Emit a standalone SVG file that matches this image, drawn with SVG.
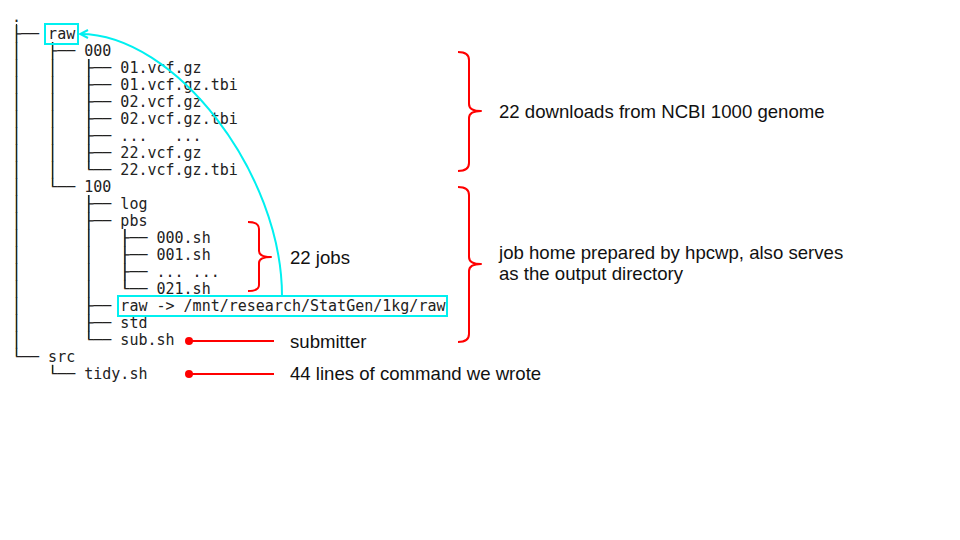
<svg xmlns="http://www.w3.org/2000/svg" width="960" height="540" viewBox="0 0 960 540">
<defs>
<style>
.t{font-family:"DejaVu Sans Mono","Liberation Mono",monospace;font-size:15px;fill:#222}
.tl{stroke:#222;stroke-width:1.2}
.l{font-family:"Liberation Sans",Arial,sans-serif;font-size:18.6px;fill:#111}
.cy{fill:none;stroke:#00f0f0;stroke-width:2}
.rd{fill:none;stroke:#f00;stroke-width:2;stroke-linejoin:round}
</style>
<marker id="ah" viewBox="0 0 10 10" refX="9" refY="5" markerWidth="10" markerHeight="10" markerUnits="userSpaceOnUse" orient="auto">
<path d="M1,1 L9,5 L1,9" fill="none" stroke="#00f0f0" stroke-width="2"/>
</marker>
</defs>
<rect width="960" height="540" fill="#fff"/>
<g id="tree-lines" class="tl">
<line x1="16.5" y1="24" x2="16.5" y2="356"/>
<line x1="52.6" y1="42" x2="52.6" y2="186"/>
<line x1="88.7" y1="59" x2="88.7" y2="169"/>
<line x1="88.7" y1="195" x2="88.7" y2="339"/>
<line x1="124.9" y1="229" x2="124.9" y2="288"/>
<line x1="52.6" y1="365" x2="52.6" y2="373"/>
</g>
<g id="tree" class="t">
<text xml:space="preserve" x="12" y="22">.</text>
<text xml:space="preserve" x="12" y="39">├── raw</text>
<text xml:space="preserve" x="12" y="56">│   ├── 000</text>
<text xml:space="preserve" x="12" y="73">│   │   ├── 01.vcf.gz</text>
<text xml:space="preserve" x="12" y="90">│   │   ├── 01.vcf.gz.tbi</text>
<text xml:space="preserve" x="12" y="107">│   │   ├── 02.vcf.gz</text>
<text xml:space="preserve" x="12" y="124">│   │   ├── 02.vcf.gz.tbi</text>
<text xml:space="preserve" x="12" y="141">│   │   ├── ...   ...</text>
<text xml:space="preserve" x="12" y="158">│   │   ├── 22.vcf.gz</text>
<text xml:space="preserve" x="12" y="175">│   │   └── 22.vcf.gz.tbi</text>
<text xml:space="preserve" x="12" y="192">│   └── 100</text>
<text xml:space="preserve" x="12" y="209">│       ├── log</text>
<text xml:space="preserve" x="12" y="226">│       ├── pbs</text>
<text xml:space="preserve" x="12" y="243">│       │   ├── 000.sh</text>
<text xml:space="preserve" x="12" y="260">│       │   ├── 001.sh</text>
<text xml:space="preserve" x="12" y="277">│       │   ├── ... ...</text>
<text xml:space="preserve" x="12" y="294">│       │   └── 021.sh</text>
<text xml:space="preserve" x="12" y="311">│       ├── raw -&gt; /mnt/research/StatGen/1kg/raw</text>
<text xml:space="preserve" x="12" y="328">│       ├── std</text>
<text xml:space="preserve" x="12" y="345">│       └── sub.sh</text>
<text xml:space="preserve" x="12" y="362">└── src</text>
<text xml:space="preserve" x="12" y="379">    └── tidy.sh</text>
</g>
<g id="highlight-raw"><rect class="cy" x="45" y="24" width="33" height="20"/></g>
<g id="highlight-link"><rect class="cy" x="118" y="296" width="329" height="20"/></g>
<g id="label-downloads"><text class="l" x="499" y="118">22 downloads from NCBI 1000 genome</text></g>
<g id="label-jobhome"><text class="l" x="499" y="259">job home prepared by hpcwp, also serves</text><text class="l" x="499" y="280">as the output directory</text></g>
<g id="label-jobs"><text class="l" x="290" y="264">22 jobs</text></g>
<g id="label-submitter"><text class="l" x="290" y="348">submitter</text></g>
<g id="label-command"><text class="l" x="290" y="380">44 lines of command we wrote</text></g>
<g id="connectors">
<path class="cy" d="M282,296 C282,173 175,34 80,34" marker-end="url(#ah)"/>
<path class="rd" d="M458,52 Q469,52 469,60 L469,104 Q469,111 481,111 Q469,111 469,118 L469,163 Q469,171 458,171"/>
<path class="rd" d="M458,187 Q469,187 469,195 L469,257 Q469,264 481,264 Q469,264 469,271 L469,334 Q469,342 458,342"/>
<path class="rd" d="M248,222 Q259,222 259,229 L259,251 Q259,257 271,257 Q259,257 259,263 L259,285 Q259,291 248,291"/>
<circle cx="189" cy="341" r="4" fill="#f00"/>
<line class="rd" x1="189" y1="341" x2="274" y2="341"/>
<circle cx="189" cy="374" r="4" fill="#f00"/>
<line class="rd" x1="189" y1="374" x2="274" y2="374"/>
</g>
</svg>
